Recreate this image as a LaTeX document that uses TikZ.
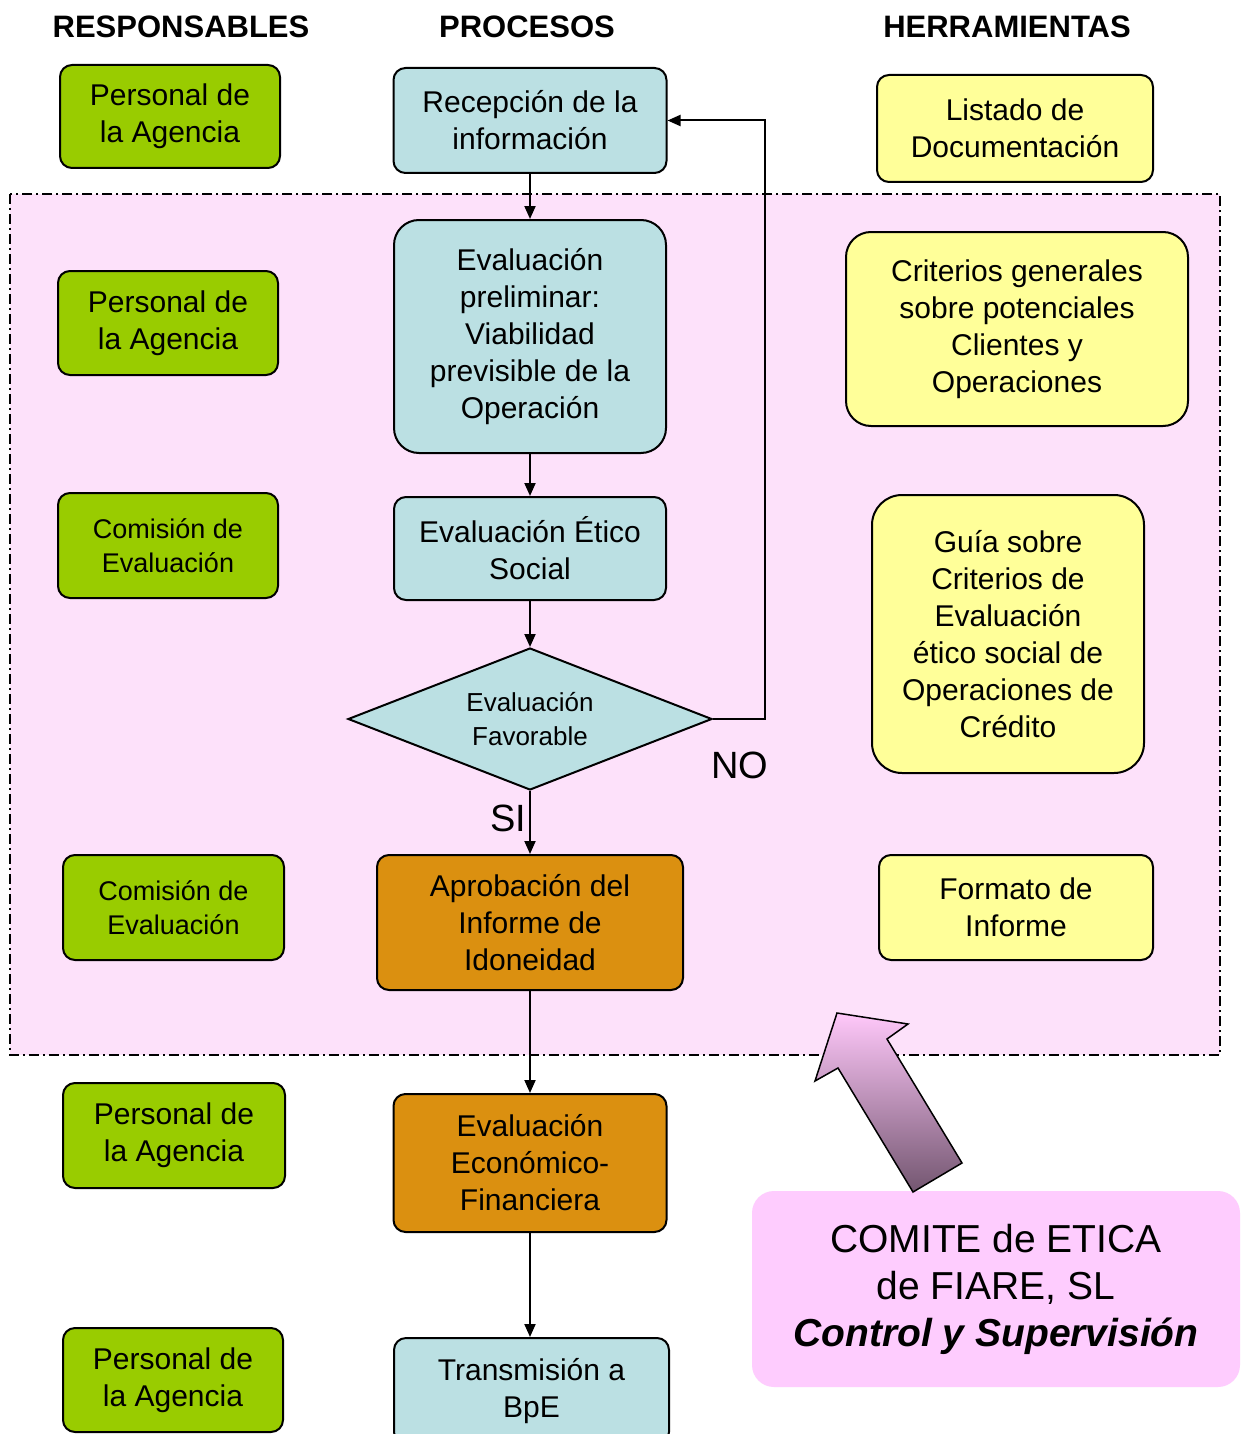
\documentclass[tikz,border=0pt]{standalone}
\usepackage{fontspec}
\setmainfont{Liberation Sans}
\usetikzlibrary{shapes.geometric,arrows.meta}
\definecolor{grn}{HTML}{99CC00}
\definecolor{blu}{HTML}{BBE0E3}
\definecolor{yel}{HTML}{FFFF99}
\definecolor{org}{HTML}{DB9010}
\definecolor{pnkreg}{HTML}{FDE1FA}
\definecolor{pnkbox}{HTML}{FECCFE}
\definecolor{arrtop}{HTML}{FFC8FA}
\definecolor{arrbot}{HTML}{735670}
\begin{document}
\begin{tikzpicture}[x=1pt,y=-1pt,
  box/.style={draw=black, line width=2pt, rounded corners=12pt, align=center, inner sep=0pt,
    font=\fontsize{30pt}{37pt}\selectfont},
  resp/.style={box, fill=grn},
  respsm/.style={box, fill=grn, font=\fontsize{27pt}{34pt}\selectfont},
  proc/.style={box, fill=blu},
  appr/.style={box, fill=org},
  tool/.style={box, fill=yel},
  hdr/.style={font=\bfseries\fontsize{31pt}{37pt}\selectfont},
  lbl/.style={font=\fontsize{38pt}{44pt}\selectfont},
  arr/.style={-{Triangle[length=13pt,width=11pt]}, line width=2pt}
]
\useasboundingbox (0,0) rectangle (1242,1434);
\clip (0,0) rectangle (1242,1434);
\fill[white] (0,0) rectangle (1242,1434);

% region
\draw[fill=pnkreg, line width=2pt, dash pattern=on 10pt off 4pt on 2pt off 4pt] (10,194) rectangle (1220,1055);

% headers
\node[hdr] (h1) at (181,27) {RESPONSABLES};
\node[hdr] (h2) at (527,27) {PROCESOS};
\node[hdr] (h3) at (1007,27) {HERRAMIENTAS};

% responsables
\node[resp, minimum width=220pt, minimum height=103pt] (r1) at (170,116.5) {Personal de\\la Agencia};
\node[resp, minimum width=220pt, minimum height=104pt] (r2) at (168,323) {Personal de\\la Agencia};
\node[respsm, minimum width=220pt, minimum height=105pt] (r3) at (168,545.5) {Comisión de\\Evaluación};
\node[respsm, minimum width=221pt, minimum height=105pt] (r4) at (173.5,907.5) {Comisión de\\Evaluación};
\node[resp, minimum width=222pt, minimum height=105pt] (r5) at (174,1135.5) {Personal de\\la Agencia};
\node[resp, minimum width=220pt, minimum height=104pt] (r6) at (173,1380) {Personal de\\la Agencia};

% procesos
\node[proc, minimum width=273pt, minimum height=105pt] (p1) at (530,120.5) {Recepción de la\\información};
\node[proc, rounded corners=25pt, minimum width=272pt, minimum height=233pt] (p2) at (530,336.5) {Evaluación\\preliminar:\\Viabilidad\\previsible de la\\Operación};
\node[proc, minimum width=272pt, minimum height=103pt] (p3) at (530,548.5) {Evaluación Ético\\Social};
\node[draw=black, line width=2pt, fill=blu, diamond, shape aspect=2.56, minimum width=364pt, minimum height=142pt, inner sep=0pt, align=center, font=\fontsize{26pt}{34pt}\selectfont] (dia) at (530,719) {Evaluación\\Favorable};
\node[appr, minimum width=306pt, minimum height=135pt] (p4) at (530,922.5) {Aprobación del\\Informe de\\Idoneidad};
\node[appr, minimum width=273pt, minimum height=138pt] (p5) at (530,1163) {Evaluación\\Económico-\\Financiera};
\node[proc, minimum width=275pt, minimum height=106pt] (p6) at (531.5,1391) {Transmisión a\\BpE};

% herramientas
\node[tool, minimum width=276pt, minimum height=107pt] (t1) at (1015,128.5) {Listado de\\Documentación};
\node[tool, rounded corners=25pt, minimum width=342pt, minimum height=194pt] (t2) at (1017,329) {Criterios generales\\sobre potenciales\\Clientes y\\Operaciones};
\node[tool, rounded corners=30pt, minimum width=272pt, minimum height=278pt] (t3) at (1008,634) {Guía sobre\\Criterios de\\Evaluación\\ético social de\\Operaciones de\\Crédito};
\node[tool, minimum width=274pt, minimum height=105pt] (t4) at (1016,907.5) {Formato de\\Informe};

% connectors
\draw[arr] (p1.south) -- (p2.north);
\draw[arr] (p2.south) -- (p3.north);
\draw[arr] (p3.south) -- (dia.north);
\draw[arr] (dia.south) -- (p4.north);
\draw[arr] (dia.east) -- ++(52,0) |- (p1.east);
\draw[arr] (p4.south) -- (p5.north);
\draw[arr] (p5.south) -- (p5.south |- p6.north);

\node[lbl] (si) at (508,818) {SI};
\node[lbl] (no) at (740,765) {NO};

% comite box
\node[fill=pnkbox, rounded corners=22pt, minimum width=488pt, minimum height=196pt, inner sep=0pt, align=center,
  font=\fontsize{39pt}{47pt}\selectfont] (com) at (996,1289)
  {COMITE de ETICA\\de FIARE, SL\\{\bfseries\itshape Control y Supervisión}};

% big arrow
\draw[line width=1.5pt, top color=arrtop, bottom color=arrbot, line join=miter]
  (837,1013) -- (908,1024) -- (887,1039) -- (962,1163) -- (913,1192) -- (838,1068) -- (815,1081) -- cycle;
\end{tikzpicture}
\end{document}
